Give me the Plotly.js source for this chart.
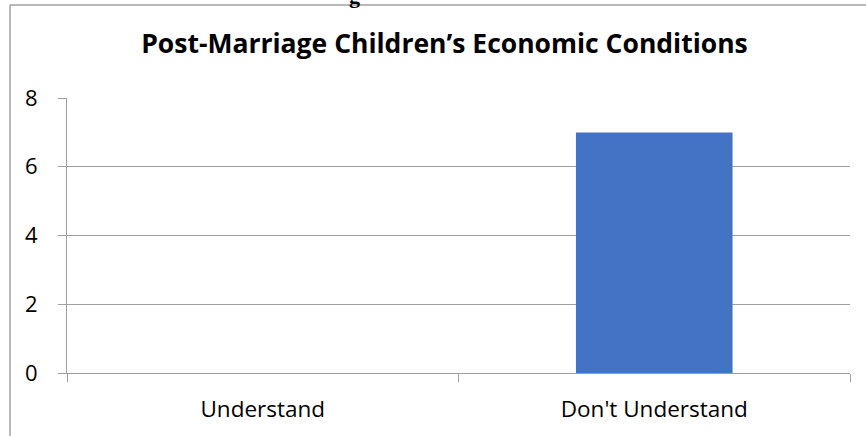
<!DOCTYPE html>
<html>
<head>
<meta charset="utf-8">
<script src="https://cdn.plot.ly/plotly-3.0.1.min.js"></script>
<style>html,body{margin:0;padding:0;background:#fff;}#chart{width:866px;height:436px;}</style>
</head>
<body>
<div id="chart"></div>
<script>
const categories = ["Understand", "Don't Understand"];
const counts = [0, 7];
const yTicks = [0, 2, 4, 6, 8];
const chartTitle = "Post-Marriage Children’s Economic Conditions";
const fragmentText = "g";

const W = 866, H = 436;
const L = 67, R = 16, T = 98, B = 63;
const pw = W - L - R, ph = H - T - B;
const px = v => (v - L) / pw;
const py = v => (H - B - v) / ph;

const grid = '#a0a0a0';

const trace = {
  type: 'bar',
  x: categories,
  y: counts,
  marker: {color: '#4472C4', line: {width: 0}},
  hoverinfo: 'skip'
};

const layout = {
  width: W, height: H,
  margin: {l: L, r: R, t: T, b: B, pad: 0},
  paper_bgcolor: '#ffffff',
  plot_bgcolor: '#ffffff',
  showlegend: false,
  bargap: 0.6,
  title: {
    text: chartTitle,
    font: {family: 'Open Sans', size: 26.5, color: '#000000', weight: 'bold'},
    xref: 'container', yref: 'container',
    x: 444.5 / W, xanchor: 'center',
    y: 1 - 44 / H, yanchor: 'middle'
  },
  xaxis: {
    type: 'category',
    showgrid: false,
    showline: true, linecolor: grid, linewidth: 1,
    ticks: 'outside', tickson: 'boundaries', ticklen: 8, tickcolor: grid, tickwidth: 1,
    tickfont: {family: 'Open Sans', size: 22.5, color: '#000000'},
    ticklabelstandoff: 16,
    zeroline: false,
    fixedrange: true
  },
  yaxis: {
    range: [0, 8],
    tickvals: yTicks,
    ticktext: yTicks.map(String),
    showgrid: true, gridcolor: grid, gridwidth: 1,
    showline: true, linecolor: grid, linewidth: 1,
    ticks: 'outside', ticklen: 8, tickcolor: grid, tickwidth: 1,
    tickfont: {family: 'Open Sans', size: 22, color: '#000000'},
    ticklabelstandoff: 16,
    zeroline: false,
    fixedrange: true
  },
  shapes: [
    {type: 'line', xref: 'paper', yref: 'paper', x0: px(10), x1: px(W + 20), y0: py(5), y1: py(5),
     line: {color: '#a0a0a0', width: 1.5}},
    {type: 'line', xref: 'paper', yref: 'paper', x0: px(10), x1: px(10), y0: py(5), y1: py(H + 20),
     line: {color: '#a0a0a0', width: 1.5}}
  ],
  annotations: [
    {text: '<b>' + fragmentText + '</b>', xref: 'paper', yref: 'paper', x: px(354), y: py(-5),
     xanchor: 'center', yanchor: 'middle', showarrow: false,
     font: {family: 'Liberation Serif', size: 22, color: '#000000'}}
  ]
};

Plotly.newPlot('chart', [trace], layout, {displayModeBar: false, staticPlot: true});
</script>
</body>
</html>
